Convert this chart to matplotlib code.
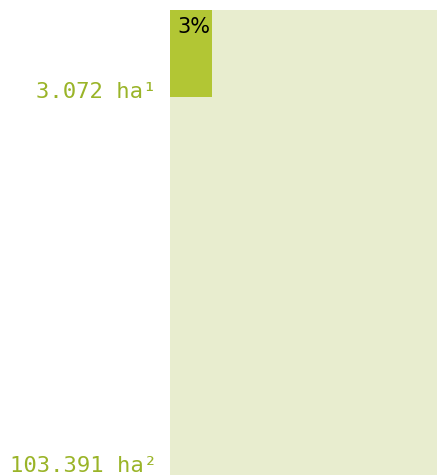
import matplotlib.pyplot as plt
from matplotlib.patches import Rectangle

# areas in hectares
part_ha = 3072
total_ha = 103391
part_label = "3.072 ha\u00b9"
total_label = "103.391 ha\u00b2"

share = part_ha / total_ha
small_w = 0.158                # width of the small block as fraction of the big one
small_h = share / small_w

fig = plt.figure(figsize=(4.37, 4.75), dpi=100)
ax = fig.add_axes([170 / 437, 0, 267 / 437, 465 / 475])
ax.set_xlim(0, 1)
ax.set_ylim(0, 1)
ax.axis('off')

ax.add_patch(Rectangle((0, 0), 1, 1, color='#e8edcf', lw=0))
ax.add_patch(Rectangle((0, 1 - small_h), small_w, small_h, color='#b2c634', lw=0))

ax.text(0.026, 0.985, f"{round(share * 100)}%", ha='left', va='top',
        fontsize=15, family='DejaVu Sans', color='black')

ax.text(-0.05, 1 - small_h + 0.012, part_label, ha='right', va='center',
        fontsize=16, family='DejaVu Sans Mono', color='#9ab428', transform=ax.transAxes)
ax.text(-0.05, 0.02, total_label, ha='right', va='center',
        fontsize=16, family='DejaVu Sans Mono', color='#9ab428', transform=ax.transAxes)

fig.savefig('out.png', dpi=100)
